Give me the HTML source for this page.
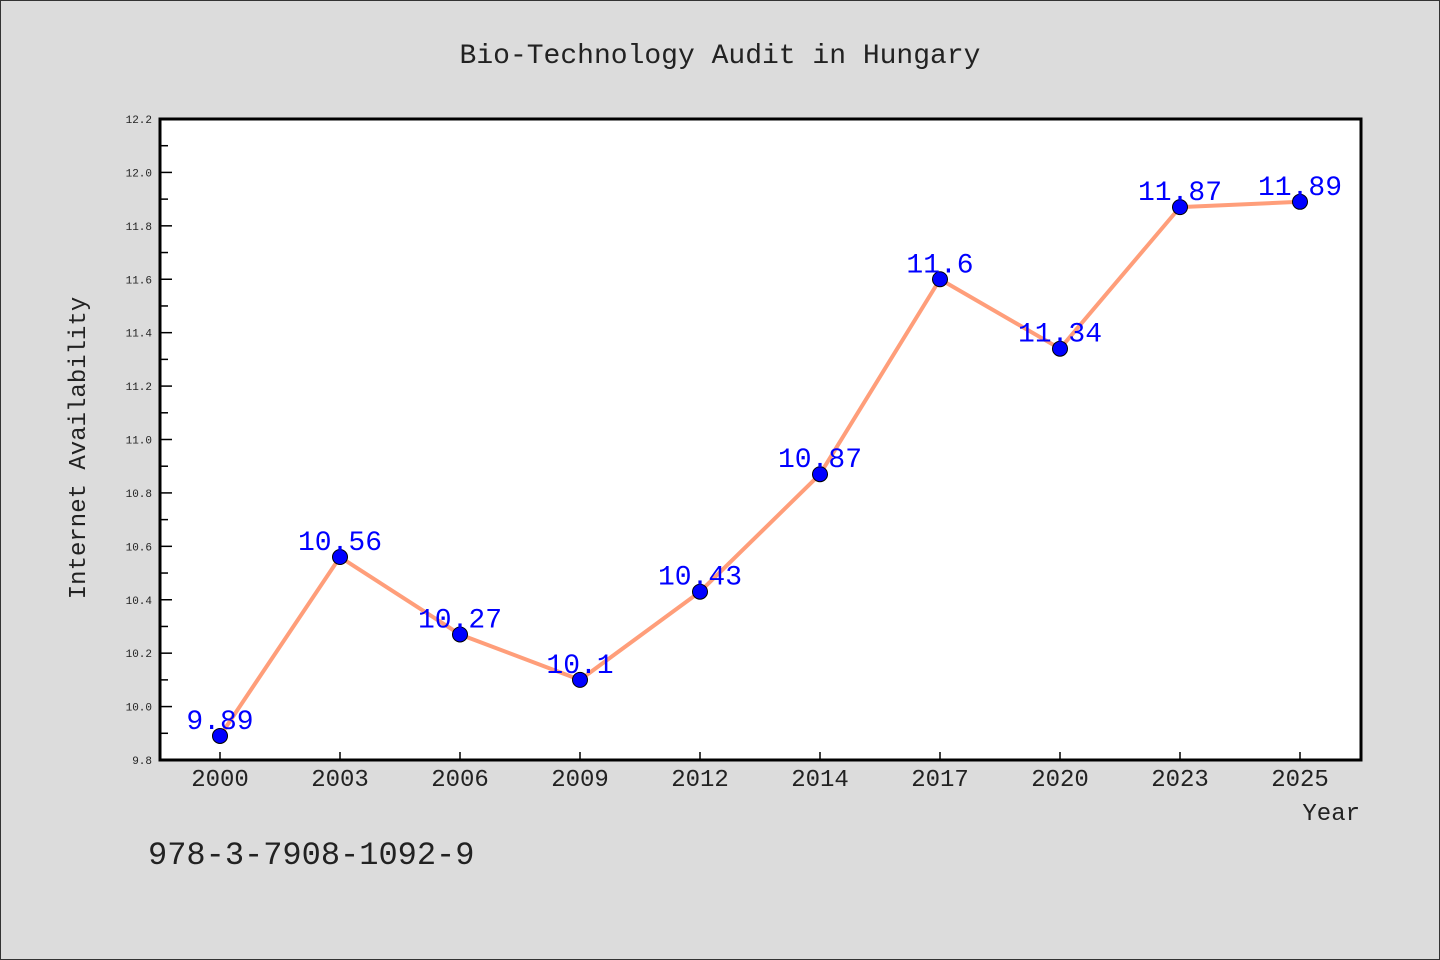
<!DOCTYPE html>
<html><head><meta charset="utf-8"><style>
html,body{margin:0;padding:0;background:#dcdcdc;}
svg{display:block;}
text{font-family:"Liberation Mono","DejaVu Sans Mono","Noto Sans CJK SC",monospace;}
</style></head><body>
<svg id="chart" width="1440" height="960" xmlns="http://www.w3.org/2000/svg">
<rect x="0.5" y="0.5" width="1439" height="959" fill="#dcdcdc" stroke="#333" stroke-width="1"/>
<text x="720" y="63" font-size="28" text-anchor="middle" fill="#222">Bio-Technology Audit in Hungary</text>
<rect x="160" y="119" width="1201" height="641" fill="#fff"/>
<g id="ticks"></g>
<g id="series"></g>
<rect x="160" y="119" width="1201" height="641" fill="none" stroke="#000" stroke-width="3"/>
<text transform="translate(85,448) rotate(-90)" font-size="24" text-anchor="middle" fill="#222">Internet Availability</text>
<text x="1360" y="820" font-size="24" text-anchor="end" fill="#222">Year</text>
<text x="148" y="864" font-size="32" fill="#222" font-family="'Liberation Sans','DejaVu Sans',sans-serif">978-3-7908-1092-9</text>
</svg>
<script>
const categories = ["2000","2003","2006","2009","2012","2014","2017","2020","2023","2025"];
const values = [9.89,10.56,10.27,10.1,10.43,10.87,11.6,11.34,11.87,11.89];
const valueLabels = ["9.89","10.56","10.27","10.1","10.43","10.87","11.6","11.34","11.87","11.89"];
const yTicks = [9.8,10.0,10.2,10.4,10.6,10.8,11.0,11.2,11.4,11.6,11.8,12.0,12.2];
const yMin = 9.8, yMax = 12.2;
const NS = "http://www.w3.org/2000/svg";
const L=160,R=1361,T=119,B=760;
function x(i){return 220+i*120;}
function y(v){return B-(v-yMin)/(yMax-yMin)*(B-T);}
function mk(tag,attrs,parent){const e=document.createElementNS(NS,tag);for(const k in attrs)e.setAttribute(k,attrs[k]);parent.appendChild(e);return e;}
const tg=document.getElementById('ticks'), sg=document.getElementById('series');
yTicks.forEach((t,i)=>{
  const ln=mk('line',{x1:L,x2:L+12,y1:y(t),y2:y(t),stroke:'#000','stroke-width':1.5},tg);
  
  
  const tx=mk('text',{x:L-8,y:y(t)+4,'font-size':11,'text-anchor':'end',fill:'#222','font-family':"'DejaVu Sans',sans-serif"},tg);
  tx.textContent=t.toFixed(1);
  
  
  if(i<yTicks.length-1){
    const m=(t+yTicks[i+1])/2;
    const mn=mk('line',{x1:L,x2:L+8,y1:y(m),y2:y(m),stroke:'#000','stroke-width':1.5},tg);
    
    
  }
});
categories.forEach((c,i)=>{
  const ln=mk('line',{x1:x(i),x2:x(i),y1:B,y2:B-8,stroke:'#000','stroke-width':1.5},tg);
  
  
  const tx=mk('text',{x:x(i),y:B+26,'font-size':24,'text-anchor':'middle',fill:'#222','font-family':"'Liberation Sans','DejaVu Sans',sans-serif"},tg);
  tx.textContent=c;
  
  
});
const pl=mk('polyline',{points:values.map((v,i)=>x(i)+','+y(v)).join(' '),fill:'none',stroke:'#ff9e7a','stroke-width':4,'stroke-linejoin':'round'},sg);


values.forEach((v,i)=>{
  const c=mk('circle',{cx:x(i),cy:y(v),r:7.5,fill:'#0000ff',stroke:'#000','stroke-width':1},sg);
  
  
});
values.forEach((v,i)=>{
  const t=mk('text',{x:x(i),y:y(v)-7,'font-size':28,'text-anchor':'middle',fill:'#0000ff'},sg);
  t.textContent=valueLabels[i];
  
  
});
</script>
</body></html>
